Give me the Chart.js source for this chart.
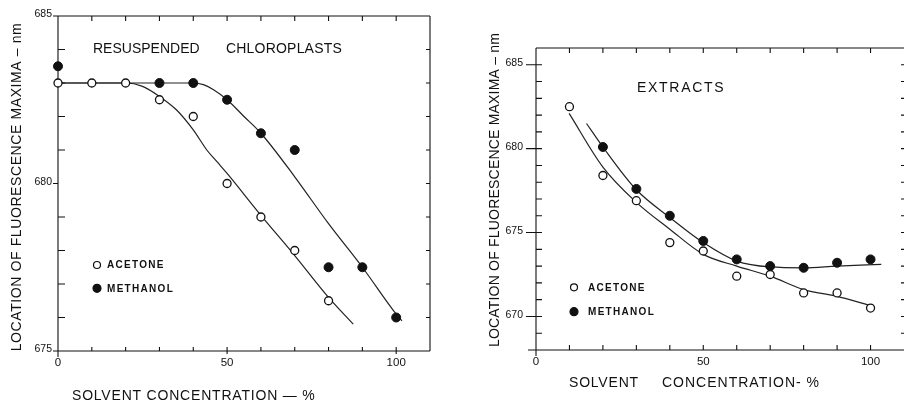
<!DOCTYPE html>
<html><head><meta charset="utf-8">
<script src="https://cdn.jsdelivr.net/npm/chart.js@4.4.1/dist/chart.umd.min.js"></script>
<style>
html,body{margin:0;padding:0;background:#fff;overflow:hidden;width:904px;height:402px}
#cl{position:absolute;left:0;top:0}
#cr{position:absolute;left:452px;top:0}
</style></head><body>
<canvas id="cl" width="452" height="402"></canvas>
<canvas id="cr" width="460" height="402"></canvas>
<script>
// ---------- DATA: left panel (resuspended chloroplasts) ----------
const L_X_TICKS = [0,10,20,30,40,50,60,70,80,90,100];
const L_X_LABELS = [0,50,100];
const L_Y_TICKS = [675,676,677,678,679,680,681,682,683,684,685];
const L_Y_LABELS = [675,680,685];
const L_ACE_X = [0,10,20,30,40,50,60,70,80];
const L_ACE_Y = [683,683,683,682.5,682,680,679,678,676.5];
const L_MET_X = [0,30,40,50,60,70,80,90,100];
const L_MET_Y = [683.5,683,683,682.5,681.5,681,677.5,677.5,676];
const L_ACE_FIT_X = [0,20,25,30,35,40,44,47,50,60,70,80,87.3];
const L_ACE_FIT_Y = [683,683,682.9,682.6,682.2,681.6,681.0,680.65,680.3,679.05,677.85,676.6,675.8];
const L_MET_FIT_X = [0,40,43,46,50,55,60,70,80,90,100,101.7];
const L_MET_FIT_Y = [683,683,682.95,682.8,682.5,682.0,681.5,680.2,678.8,677.5,676.1,675.9];

// ---------- DATA: right panel (extracts) ----------
const R_X_TICKS = [0,10,20,30,40,50,60,70,80,90,100];
const R_X_LABELS = [0,50,100];
const R_Y_TICKS = [668,669,670,671,672,673,674,675,676,677,678,679,680,681,682,683,684,685,686];
const R_Y_LABELS = [670,675,680,685];
const R_ACE_X = [10,20,30,40,50,60,70,80,90,100];
const R_ACE_Y = [682.5,678.4,676.9,674.4,673.9,672.4,672.5,671.4,671.4,670.5];
const R_MET_X = [20,30,40,50,60,70,80,90,100];
const R_MET_Y = [680.1,677.6,676.0,674.5,673.4,673.0,672.9,673.2,673.4];
const R_ACE_FIT_X = [9.9,20,30,40,50,60,70,80,90,100,101];
const R_ACE_FIT_Y = [682.1,678.9,676.8,675.2,673.7,673.0,672.4,671.6,671.2,670.65,670.6];
const R_MET_FIT_X = [15.1,20,30,40,50,60,70,80,90,103.2];
const R_MET_FIT_Y = [681.5,680.1,677.55,675.9,674.4,673.3,672.95,672.9,673.0,673.1];

const SERIES = ['ACETONE','METHANOL'];

const pts = (xs, ys) => xs.map((x,i)=>({x, y: ys[i]}));
const INK = '#111111';
const FONT = '"Liberation Sans", Arial, Helvetica, sans-serif';

const framePlugin = {
  id: 'frame',
  beforeDatasetsDraw(chart, args, o) {
    const ctx = chart.ctx, a = chart.chartArea, xs = chart.scales.x, ys = chart.scales.y;
    ctx.save();
    ctx.strokeStyle = INK; ctx.lineWidth = 1.3; ctx.lineCap = 'butt';
    ctx.beginPath();
    ctx.moveTo(a.left - o.topExtL, a.top); ctx.lineTo(a.right, a.top);
    ctx.moveTo(a.left - o.botExtL, a.bottom); ctx.lineTo(a.right, a.bottom);
    ctx.moveTo(a.left, a.top); ctx.lineTo(a.left, a.bottom + o.leftExtB);
    if (o.rightLine) { ctx.moveTo(a.right, a.top); ctx.lineTo(a.right, a.bottom); }
    for (const v of o.xTicks) {
      const p = xs.getPixelForValue(v);
      const major = o.xLabels.includes(v);
      ctx.moveTo(p, a.top); ctx.lineTo(p, a.top + o.topLen);
      ctx.moveTo(p, a.bottom - o.botUp); ctx.lineTo(p, a.bottom + (major ? o.botDown : 0));
    }
    ctx.lineWidth = 1.1;
    for (const v of o.yTicks) {
      const p = ys.getPixelForValue(v);
      const major = o.yLabels.includes(v);
      if (major) { ctx.moveTo(a.left - o.yMajOut, p); ctx.lineTo(a.left + o.yMajIn, p); }
      else { ctx.moveTo(a.left - o.yMinOut, p); ctx.lineTo(a.left + o.yMinIn, p); }
      ctx.moveTo(a.right - o.rightLen, p); ctx.lineTo(a.right, p);
    }
    ctx.stroke();
    ctx.restore();
  },
  afterDraw(chart, args, o) {
    const ctx = chart.ctx;
    ctx.save();
    ctx.fillStyle = INK;
    for (const t of o.texts) {
      ctx.font = t.font;
      ctx.letterSpacing = (t.ls || 0) + 'px';
      if (t.rot) {
        ctx.save();
        ctx.translate(t.x, t.y);
        ctx.rotate(-Math.PI / 2);
        ctx.textAlign = 'center'; ctx.textBaseline = 'middle';
        ctx.fillText(t.t, 0, 0);
        ctx.restore();
      } else {
        ctx.textAlign = 'left'; ctx.textBaseline = 'alphabetic';
        ctx.fillText(t.t, t.x, t.y);
      }
    }
    // legend
    const L = o.legend;
    ctx.font = 'bold 10px ' + FONT;
    ctx.letterSpacing = '1.3px';
    ctx.textAlign = 'left'; ctx.textBaseline = 'middle';
    SERIES.forEach((name, i) => {
      const ds = chart.data.datasets[i];
      const y = L.y + i * L.dy;
      ctx.beginPath();
      ctx.arc(L.x, y, ds.pointRadius - 0.5, 0, Math.PI * 2);
      ctx.fillStyle = ds.backgroundColor; ctx.fill();
      ctx.lineWidth = 1.2; ctx.strokeStyle = INK; ctx.stroke();
      ctx.fillStyle = INK;
      ctx.fillText(name, L.tx, y + 0.5);
    });
    ctx.restore();
  }
};

function makeChart(id, cfg) {
  return new Chart(document.getElementById(id), {
    type: 'scatter',
    data: {
      datasets: [
        { label: SERIES[0], data: pts(cfg.aceX, cfg.aceY), pointRadius: 4, pointHoverRadius: 4,
          backgroundColor: '#ffffff', borderColor: INK, borderWidth: 1.3, clip: false, order: 0 },
        { label: SERIES[1], data: pts(cfg.metX, cfg.metY), pointRadius: 4.5, pointHoverRadius: 4.5,
          backgroundColor: INK, borderColor: INK, borderWidth: 1, clip: false, order: 0 },
        { label: 'fit-a', data: pts(cfg.aceFitX, cfg.aceFitY), showLine: true, pointRadius: 0,
          borderColor: '#222', borderWidth: 1.2, cubicInterpolationMode: 'monotone', fill: false, order: 1 },
        { label: 'fit-m', data: pts(cfg.metFitX, cfg.metFitY), showLine: true, pointRadius: 0,
          borderColor: '#222', borderWidth: 1.2, cubicInterpolationMode: 'monotone', fill: false, order: 1 }
      ]
    },
    options: {
      responsive: false, animation: false, events: [],
      layout: { padding: cfg.padding },
      plugins: { legend: { display: false }, tooltip: { enabled: false }, frame: cfg.frame },
      scales: {
        x: {
          type: 'linear', min: 0, max: 110,
          grid: { display: false, drawTicks: false }, border: { display: false },
          afterBuildTicks: s => { s.ticks = cfg.xLabels.map(v => ({ value: v })); },
          afterFit: s => { s.height = cfg.xH; },
          ticks: { padding: 5, color: INK, font: { family: FONT, size: 11.5 }, callback: v => String(v), autoSkip: false, maxRotation: 0 }
        },
        y: {
          type: 'linear', min: cfg.yMin, max: cfg.yMax,
          grid: { display: false, drawTicks: false }, border: { display: false },
          afterBuildTicks: s => { s.ticks = cfg.yLabels.map(v => ({ value: v })); },
          afterFit: s => { s.width = cfg.yW; },
          ticks: { padding: cfg.yPad, labelOffset: -1.5, color: INK, font: { family: FONT, size: 10.5 }, callback: v => String(v), autoSkip: false }
        }
      }
    },
    plugins: [framePlugin]
  });
}

makeChart('cl', {
  aceX: L_ACE_X, aceY: L_ACE_Y, metX: L_MET_X, metY: L_MET_Y,
  aceFitX: L_ACE_FIT_X, aceFitY: L_ACE_FIT_Y, metFitX: L_MET_FIT_X, metFitY: L_MET_FIT_Y,
  yMin: 675, yMax: 685, xLabels: L_X_LABELS, yLabels: L_Y_LABELS,
  padding: { left: 0, right: 22, top: 16, bottom: 0 }, xH: 51, yW: 58, yPad: 6,
  frame: {
    xTicks: L_X_TICKS, xLabels: L_X_LABELS, yTicks: L_Y_TICKS, yLabels: L_Y_LABELS,
    topExtL: 5, botExtL: 5, leftExtB: 6, rightLine: true,
    topLen: 5, botUp: 4, botDown: 3,
    yMajOut: 5, yMajIn: 0, yMinOut: 0, yMinIn: 7, rightLen: 4,
    texts: [
      { t: 'RESUSPENDED', x: 93, y: 53, font: '14px ' + FONT },
      { t: 'CHLOROPLASTS', x: 226, y: 53, font: '14px ' + FONT, ls: 0.2 },
      { t: 'LOCATION OF FLUORESCENCE MAXIMA – nm', x: 17, y: 187, font: '14px ' + FONT, ls: 0.6, rot: true },
      { t: 'SOLVENT CONCENTRATION — %', x: 72, y: 400, font: '14px ' + FONT, ls: 0.8 }
    ],
    legend: { x: 97, y: 265, dy: 23.3, tx: 107 }
  }
});

makeChart('cr', {
  aceX: R_ACE_X, aceY: R_ACE_Y, metX: R_MET_X, metY: R_MET_Y,
  aceFitX: R_ACE_FIT_X, aceFitY: R_ACE_FIT_Y, metFitX: R_MET_FIT_X, metFitY: R_MET_FIT_Y,
  yMin: 668, yMax: 686, xLabels: R_X_LABELS, yLabels: R_Y_LABELS,
  padding: { left: 0, right: 8, top: 48, bottom: 0 }, xH: 52, yW: 84, yPad: 13,
  frame: {
    xTicks: R_X_TICKS, xLabels: [0], yTicks: R_Y_TICKS, yLabels: R_Y_LABELS,
    topExtL: 0, botExtL: 8, leftExtB: 6, rightLine: false,
    topLen: 5, botUp: 5, botDown: 0,
    yMajOut: 10, yMajIn: 6, yMinOut: 0, yMinIn: 6, rightLen: 3,
    texts: [
      { t: 'EXTRACTS', x: 185, y: 92, font: '14px ' + FONT, ls: 1.7 },
      { t: 'LOCATION OF FLUORESCENCE MAXIMA – nm', x: 43, y: 190, font: '14px ' + FONT, ls: 0.2, rot: true },
      { t: 'SOLVENT', x: 117, y: 387, font: '14px ' + FONT, ls: 0.8 },
      { t: 'CONCENTRATION- %', x: 210, y: 387, font: '14px ' + FONT, ls: 1 }
    ],
    legend: { x: 122, y: 287.3, dy: 24.4, tx: 136 }
  }
});
</script>
</body></html>
